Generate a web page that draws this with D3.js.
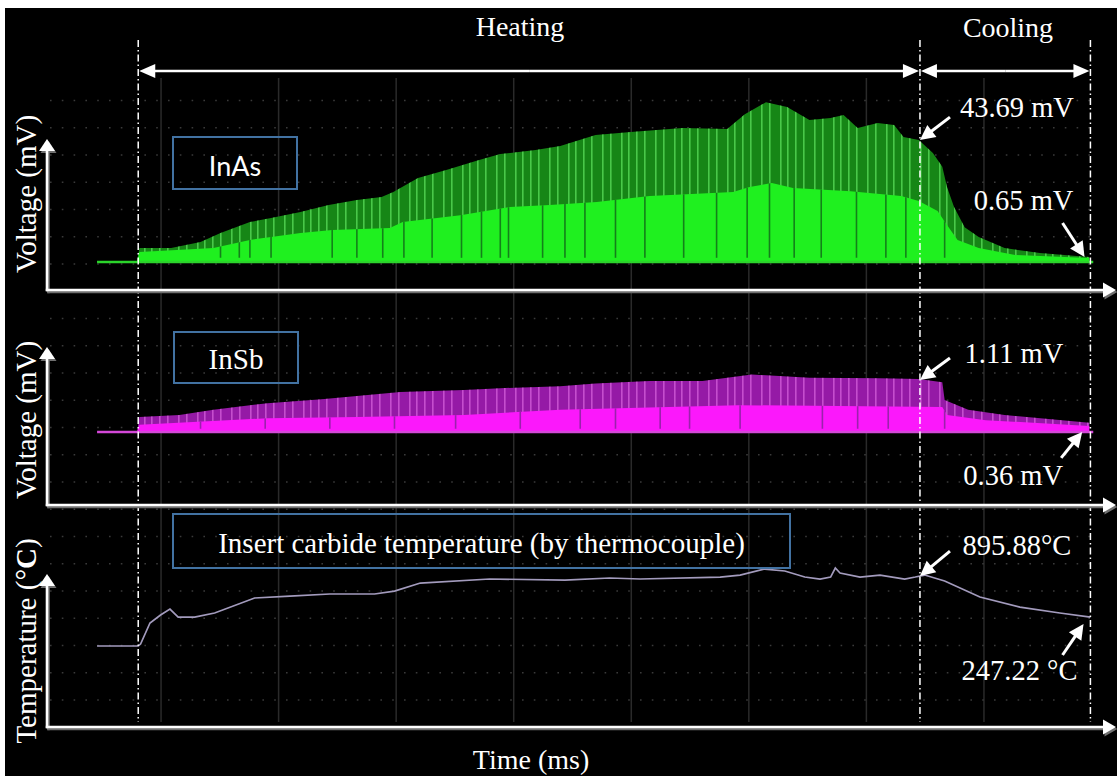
<!DOCTYPE html>
<html>
<head>
<meta charset="utf-8">
<script src="https://cdn.jsdelivr.net/npm/d3@7"></script>
<style>
  html, body { margin: 0; padding: 0; background: #fff; }
  svg { display: block; }
  .serif { font-family: "Liberation Serif", "Times New Roman", serif; fill: #fff; }
  .sans { font-family: Lato, "Open Sans", sans-serif; fill: #fff; }
</style>
</head>
<body>
<div id="chart"></div>
<script>
// scope time base: 100 ms / div, values

// InAs detector (mV): envelope of the peaks and of the dense body
const inasTime = [46, 80, 82, 109, 134, 151, 176, 194, 219, 243, 267, 288, 298, 319, 343, 371, 389, 419, 440, 470,
                  500, 544, 582, 597, 615, 633, 652, 670, 681, 693, 710, 724, 732, 745, 757, 765, 769, 775, 784, 796,
                  818, 848, 890];
const inasPeak = [0.4, 0.4, 5.0, 5.0, 7.2, 10.4, 14.3, 15.8, 17.9, 20.4, 22.2, 23.3, 25.1, 30.1, 33.0, 36.6, 38.7, 40.1, 41.6, 45.5,
                  46.6, 48.0, 47.7, 53.0, 57.3, 55.6, 50.9, 51.6, 52.7, 48.0, 49.8, 49.1, 44.8, 43.7, 39.1, 34.1, 26.9, 19.7, 12.5, 9.0,
                  5.0, 3.2, 1.8];
const inasBodyTime = [46, 80, 82, 145, 176, 194, 219, 246, 295, 306, 355, 397, 431, 471, 516, 587, 601, 620, 638, 687,
                      730, 745, 761, 769, 778, 796, 827, 890];
const inasBody = [0.3, 0.3, 3.6, 5.0, 7.9, 9.0, 10.4, 11.5, 12.2, 14.3, 16.8, 19.7, 20.4, 21.5, 23.7, 25.1, 26.9, 28.3, 26.5, 25.4,
                  23.7, 21.9, 18.3, 13.3, 7.9, 5.0, 2.5, 1.4];
const inasDips = [151, 167, 176, 194, 246, 267, 289, 307, 331, 356, 373, 389, 396, 425, 444, 461, 487, 512, 545, 573,
                  599, 618, 639, 662, 692, 717, 734, 767];

// InSb detector (mV)
const INSB_FLOOR = 0.30;
const insbPeakTime = [46, 80, 82, 116, 145, 191, 237, 267, 304, 358, 389, 440, 470, 516, 561, 603, 652, 712, 745, 765,
                      767, 787, 818, 890];
const insbPeak = [0.30, 0.30, 0.53, 0.56, 0.64, 0.74, 0.80, 0.85, 0.91, 0.94, 0.97, 1.00, 1.04, 1.08, 1.08, 1.18, 1.13, 1.12, 1.11, 1.06,
                  0.79, 0.64, 0.56, 0.44];
const insbBodyTime = [46, 80, 82, 191, 267, 358, 440, 591, 765, 769, 802, 890];
const insbBody = [0.30, 0.30, 0.41, 0.51, 0.53, 0.56, 0.64, 0.71, 0.68, 0.56, 0.48, 0.39];
const insbDips = [134, 189, 244, 299, 351, 406, 457, 487, 525, 550, 593, 663, 693, 719, 767];

// thermocouple (°C)
const tempTime = [46, 81, 83, 91, 100, 108, 115, 129, 146, 180, 210, 244, 282, 299, 321, 380, 444, 482, 508, 576,
                  593, 614, 631, 648, 661, 670, 674, 678, 695, 712, 733, 742, 750, 767, 797, 831, 865, 891];
const tempC = [25, 25, 50, 316, 416, 492, 391, 391, 442, 631, 656, 682, 682, 719, 820, 871, 858, 884, 871, 896,
               921, 997, 972, 896, 871, 896, 1010, 947, 896, 921, 871, 896, 921, 846, 644, 517, 442, 391];

// phases (ms)
const heatStart = 81, heatEnd = 746, coolEnd = 891;

const W = 1117, H = 776;
const svg = d3.select('#chart').append('svg').attr('width', W).attr('height', H);
svg.append('rect').attr('width', W).attr('height', H).attr('fill', '#fff');
svg.append('rect').attr('x', 5).attr('y', 8).attr('width', W - 5).attr('height', H - 8).attr('fill', '#000');

const xT = d3.scaleLinear().domain([0, 900]).range([43, 1101]);
const yA = d3.scaleLinear().domain([0, 60]).range([262, 262 - 60 * 2.79]);
const yB = d3.scaleLinear().domain([0, 1.5]).range([451.5, 451.5 - 1.5 * 65.3]);
const yC = d3.scaleLinear().domain([0, 1000]).range([648, 568.8]);
const yRow = d3.scaleLinear().domain([0, 22]).range([100, 100 + 22 * 27.25]);

const defs = svg.append('defs');

// ---- scope graticule
const gridTop = 78, gridBottom = 722;
svg.append('g')
  .attr('transform', `translate(0,${gridBottom})`)
  .call(d3.axisBottom(xT).tickValues(d3.range(100, 900, 100)).tickSize(-(gridBottom - gridTop)).tickFormat(''))
  .call(g => g.select('.domain').remove())
  .selectAll('line').attr('stroke', '#2a2a2a').attr('stroke-width', 1.5);

svg.append('g')
  .attr('transform', 'translate(50,0)')
  .call(d3.axisLeft(yRow).tickValues(d3.range(0, 23)).tickSize(-(1100 - 50)).tickFormat(''))
  .call(g => g.select('.domain').remove())
  .selectAll('line').attr('stroke', '#3a3a3a').attr('stroke-width', 1.4).attr('stroke-dasharray', '1.6 10.2');

// ---- streak patterns
function streakPattern(id, color) {
  const p = defs.append('pattern').attr('id', id).attr('patternUnits', 'userSpaceOnUse')
    .attr('width', 53).attr('height', 20);
  [0, 8, 19, 27, 38, 45].forEach(o => p.append('rect').attr('x', o).attr('width', 1.6).attr('height', 20).attr('fill', color));
}
streakPattern('inasStreak', 'rgba(100,235,100,0.65)');
streakPattern('insbStreak', 'rgba(245,130,245,0.5)');

function band(times, vals, y, base) {
  return d3.area()
    .x(d => xT(d[0]))
    .y0(y(base))
    .y1(d => y(d[1]))(d3.zip(times, vals));
}

function trace(opt) {
  const g = svg.append('g');
  const peakPath = band(opt.peakTime, opt.peak, opt.y, opt.floor);
  const bodyPath = band(opt.bodyTime, opt.body, opt.y, opt.floor);
  g.append('path').attr('d', peakPath).attr('fill', opt.dark);
  g.append('path').attr('d', peakPath).attr('fill', `url(#${opt.streak})`);
  g.append('path').attr('d', bodyPath).attr('fill', opt.bright);
  defs.append('clipPath').attr('id', opt.id + 'Clip').append('path').attr('d', bodyPath);
  g.append('g').attr('clip-path', `url(#${opt.id}Clip)`)
    .selectAll('line').data(opt.dips).join('line')
      .attr('x1', d => xT(d)).attr('x2', d => xT(d))
      .attr('y1', opt.y(opt.dipBase)).attr('y2', opt.y.range()[1])
      .attr('stroke', opt.dipColor).attr('stroke-width', 1.6);
  g.append('line')
    .attr('x1', xT(opt.peakTime[0])).attr('x2', xT(opt.peakTime[opt.peakTime.length - 1]) + 4)
    .attr('y1', opt.y(opt.floor)).attr('y2', opt.y(opt.floor))
    .attr('stroke', opt.baseColor).attr('stroke-width', 2.5);
}

trace({ id: 'inas', peakTime: inasTime, peak: inasPeak, bodyTime: inasBodyTime, body: inasBody, dips: inasDips,
        y: yA, floor: 0, dipBase: 1.5, dark: '#168616', bright: '#1ff01f', streak: 'inasStreak',
        dipColor: '#14801a', baseColor: '#2bd42b' });
trace({ id: 'insb', peakTime: insbPeakTime, peak: insbPeak, bodyTime: insbBodyTime, body: insbBody, dips: insbDips,
        y: yB, floor: INSB_FLOOR, dipBase: INSB_FLOOR + 0.05, dark: '#951aa6', bright: '#fb18fb', streak: 'insbStreak',
        dipColor: '#9a22ac', baseColor: '#d448d8' });

svg.append('path')
  .attr('d', d3.line().x(d => xT(d[0])).y(d => yC(d[1]))(d3.zip(tempTime, tempC)))
  .attr('fill', 'none').attr('stroke', '#a39bbd').attr('stroke-width', 1.7);

// ---- phase markers
svg.append('g').selectAll('line').data([heatStart, heatEnd, coolEnd]).join('line')
  .attr('x1', d => xT(d)).attr('x2', d => xT(d)).attr('y1', 40).attr('y2', 722)
  .attr('stroke', '#fff').attr('stroke-width', 1.5).attr('stroke-dasharray', '7 3 1.5 3');

function arrow(g, x1, y1, x2, y2, o = {}) {
  const { width = 2.6, len = 14, half = 7, color = '#fff' } = o;
  const a = Math.atan2(y2 - y1, x2 - x1);
  const bx = x2 - len * Math.cos(a), by = y2 - len * Math.sin(a);
  g.append('line').attr('x1', x1).attr('y1', y1).attr('x2', bx + Math.cos(a)).attr('y2', by + Math.sin(a))
    .attr('stroke', color).attr('stroke-width', width);
  const px = -Math.sin(a) * half, py = Math.cos(a) * half;
  g.append('path').attr('d', `M${x2},${y2}L${bx + px},${by + py}L${bx - px},${by - py}Z`).attr('fill', color);
}

const over = svg.append('g');
function span(t0, t1, y) {
  const a = xT(t0) + 1, b = xT(t1) - 1, m = (a + b) / 2;
  arrow(over, m, y, a, y, { len: 16, half: 7 });
  arrow(over, m, y, b, y, { len: 16, half: 7 });
}
span(heatStart, heatEnd, 71);
span(heatEnd, coolEnd, 71);
over.append('text').attr('class', 'serif').attr('x', 520).attr('y', 36).attr('text-anchor', 'middle')
  .attr('font-size', 28).text('Heating');
over.append('text').attr('class', 'serif').attr('x', 1008).attr('y', 37).attr('text-anchor', 'middle')
  .attr('font-size', 28).text('Cooling');

// ---- panel axes
const axX = 47, axEnd = 1116;
function panelAxes(yBottom, yTip) {
  [['#6f6f6f', 1.5, 2], ['#fff', 0, 0]].forEach(([c, dx, dy]) => {
    const s = over.append('g').attr('transform', `translate(${dx},${dy})`);
    arrow(s, axX, yBottom + 1.2, axX, yTip, { color: c, len: 12, half: 8 });
    arrow(s, axX - 1.2, yBottom, axEnd, yBottom, { color: c, len: 13, half: 7.5 });
  });
}
panelAxes(290, 139);
panelAxes(505, 347);
panelAxes(727, 574);

function yLabel(txt, cy) {
  return over.append('text').attr('class', 'serif').attr('font-size', 29).attr('text-anchor', 'middle')
    .attr('transform', `translate(36,${cy}) rotate(-90)`).text(txt);
}
yLabel('Voltage (mV)', 194);
yLabel('Voltage (mV)', 420);
const tl = yLabel('Temperature (°', 641);
tl.append('tspan').attr('font-weight', 'bold').text('C');
tl.append('tspan').text(')');

over.append('text').attr('class', 'serif').attr('x', 531).attr('y', 769).attr('text-anchor', 'middle')
  .attr('font-size', 28).text('Time (ms)');

// ---- legend boxes
function box(x0, y0, x1, y1, txt, cls, size, ty) {
  over.append('rect').attr('x', x0).attr('y', y0).attr('width', x1 - x0).attr('height', y1 - y0)
    .attr('fill', 'none').attr('stroke', '#4272a2').attr('stroke-width', 2);
  over.append('text').attr('class', cls).attr('x', (x0 + x1) / 2).attr('y', ty).attr('text-anchor', 'middle')
    .attr('font-size', size).text(txt);
}
box(173, 137, 297, 189, 'InAs', 'sans', 27, 176);
box(174, 332, 298, 383, 'InSb', 'serif', 29, 369);
box(173, 514, 790, 568, 'Insert carbide temperature (by thermocouple)', 'serif', 29, 553);

// ---- value call-outs
const notes = [
  { t: heatEnd, v: 43.7, y: yA, tip: [0, 0], tail: [30, -23], text: [97, -23], label: '43.69 mV' },
  { t: 886, v: 1.8, y: yA, tip: [0, 0], tail: [-22, -34], text: [-61, -47], label: '0.65 mV' },
  { t: heatEnd, v: 1.11, y: yB, tip: [0, 1], tail: [30, -22], text: [94, -17], label: '1.11 mV' },
  { t: 884, v: INSB_FLOOR, y: yB, tip: [0, 0], tail: [-21, 26], text: [-69, 53], label: '0.36 mV' },
  { t: heatEnd, v: 896, y: yC, tip: [0, -1], tail: [30, -25], text: [97, -21], label: '895.88°C' },
  { t: 886, v: 391, y: yC, tip: [-1, 7], tail: [-21, 31], text: [-64, 56], label: '247.22 °C' }
];
notes.forEach(n => {
  const x = xT(n.t) + n.tip[0], y = n.y(n.v) + n.tip[1];
  arrow(over, x + n.tail[0], y + n.tail[1], x, y, { width: 3, len: 15, half: 7.5 });
  over.append('text').attr('class', 'serif').attr('x', x + n.text[0]).attr('y', y + n.text[1])
    .attr('text-anchor', 'middle').attr('font-size', 28.5).text(n.label);
});
</script>
</body>
</html>
